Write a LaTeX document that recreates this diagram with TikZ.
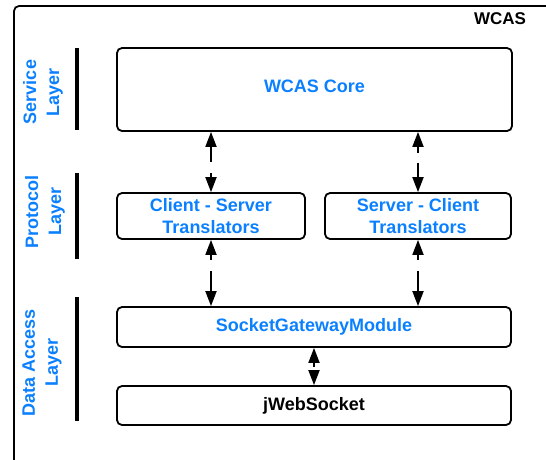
\documentclass[tikz,border=0pt]{standalone}
\usepackage{fontspec}
\setmainfont{Liberation Sans}
\usetikzlibrary{arrows.meta}
\definecolor{layerblue}{HTML}{0A80FF}
\tikzset{
  box/.style={draw, line width=1.8pt, rounded corners=5pt, rectangle,
    inner sep=0pt, text=layerblue,
    font=\fontsize{18}{22}\selectfont\bfseries, align=center},
  layerlabel/.style={rotate=90, text=layerblue, align=center,
    font=\fontsize{18}{23}\selectfont\bfseries},
  layerbar/.style={line width=4pt},
  link/.style={line width=1.8pt,
    {Triangle[length=15pt,width=11pt]}-{Triangle[length=15pt,width=11pt]}},
}
\begin{document}
\begin{tikzpicture}[x=1pt,y=-1pt]
\useasboundingbox (0,0) rectangle (546,459);

% enclosing WCAS frame
\draw[line width=1.8pt, rounded corners=5pt] (14,470) -- (14,6) -- (560,6);
\node[font=\fontsize{17}{20}\selectfont\bfseries] (wcas) at (500,19) {WCAS};

% components
\node[box, minimum width=395pt, minimum height=83pt, text depth=7pt] (core) at (314.5,89.5) {WCAS Core};
\node[box, minimum width=188pt, minimum height=46pt] (cs) at (211,216) {Client - Server\\Translators};
\node[box, minimum width=186pt, minimum height=46pt] (sc) at (418,216) {Server - Client\\Translators};
\node[box, minimum width=394pt, minimum height=40pt] (sgm) at (314,327) {SocketGatewayModule};
\node[box, minimum width=394pt, minimum height=39pt, text=black] (jws) at (314,405.5) {jWebSocket};

% layer labels and bars
\node[layerlabel] (service) at (43,92) {Service\\Layer};
\node[layerlabel] (protocol) at (45,211.5) {Protocol\\Layer};
\node[layerlabel] (dataaccess) at (42,362.5) {Data Access\\Layer};
\draw[layerbar] (77,48) -- (77,130);
\draw[layerbar] (77,173) -- (77,259);
\draw[layerbar] (77,297) -- (77,421);

% connectors
\draw[link, dash pattern=on 16pt off 11pt on 300pt off 1pt] (core.south -| cs.north) -- (cs.north);
\draw[link, dash pattern=on 7pt off 10pt on 300pt off 1pt] (core.south -| sc.north) -- (sc.north);
\draw[link, dash pattern=on 6pt off 11pt on 300pt off 1pt] (cs.south) -- (cs.south |- sgm.north);
\draw[link, dash pattern=on 6pt off 11pt on 300pt off 1pt] (sc.south) -- (sc.south |- sgm.north);
\draw[link, dash pattern=on 5pt off 4pt on 300pt off 1pt] (sgm.south) -- (jws.north);
\end{tikzpicture}
\end{document}
